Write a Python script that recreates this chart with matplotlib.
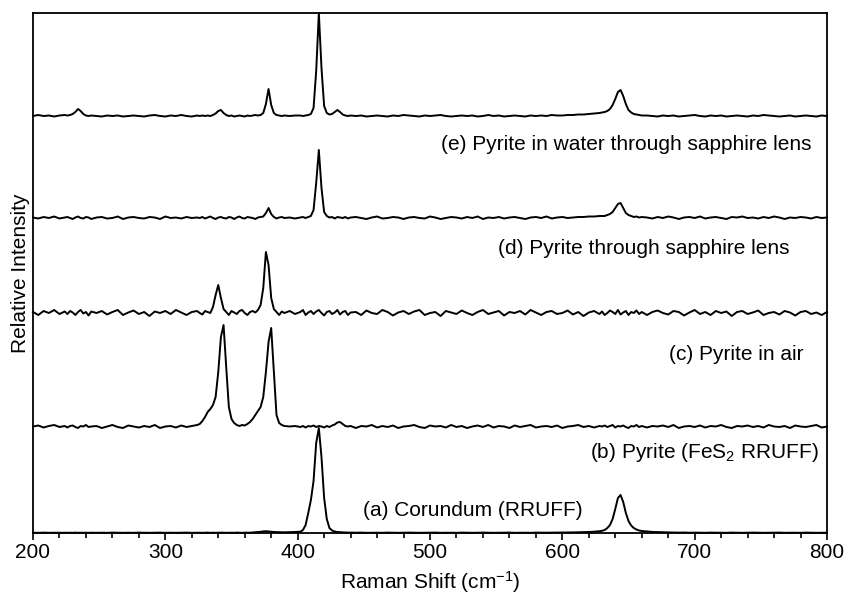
import numpy as np
import matplotlib
matplotlib.use("Agg")
import matplotlib.pyplot as plt
from matplotlib.ticker import MultipleLocator

plt.rcParams['font.family'] = ['Liberation Sans', 'DejaVu Sans']
plt.rcParams['mathtext.fontset'] = 'custom'
plt.rcParams['mathtext.rm'] = 'Liberation Sans'
plt.rcParams['mathtext.it'] = 'Liberation Sans:italic'
plt.rcParams['mathtext.default'] = 'regular'

# Raman shift sampling positions (cm^-1)
raman_shift = np.concatenate([
    np.arange(200, 225, 4), np.arange(226, 245, 2), np.arange(248, 325, 4),
    np.arange(326, 391, 2), np.arange(394, 399, 4), np.arange(402, 441, 2),
    np.arange(444, 629, 4), np.arange(630, 661, 2), np.arange(664, 801, 4)])

# (a) Corundum (RRUFF)
corundum = ([0.3, 0.2, 0.4, 0.2, 0.3, 0.2, 0.3]
            + [0.2, 0.3, 0.2, 0.4, 0.2, 0.3, 0.2, 0.3, 0.2, 0.3]
            + [0.2, 0.3, 0.2, 0.4, 0.3, 0.2, 0.3, 0.2, 0.4, 0.3, 0.2, 0.3, 0.4, 0.2, 0.3, 0.2, 0.3, 0.4, 0.2, 0.3]
            + [0.3, 0.2, 0.3, 0.4, 0.2, 0.3, 0.2, 0.3, 0.4, 0.3, 0.2, 0.3, 0.3, 0.2, 0.4, 0.3, 0.2, 0.3, 0.4, 0.3,
               0.5, 0.6, 0.8, 1.2, 1.6, 1.8, 1.6, 1.3, 1.0, 0.9, 0.8, 0.7, 0.7]
            + [0.8, 1.0]
            + [1.3, 3, 8, 20, 33, 52, 90, 105, 76, 35, 14, 5, 2.5, 1.5, 1.0, 0.8, 0.6, 0.5, 0.4, 0.4]
            + [0.3, 0.4, 0.2, 0.3, 0.3, 0.2, 0.4, 0.3, 0.2, 0.3, 0.4, 0.3, 0.2, 0.3, 0.3, 0.4, 0.2, 0.3, 0.3, 0.2,
               0.4, 0.3, 0.2, 0.3, 0.4, 0.3, 0.2, 0.3, 0.3, 0.4, 0.2, 0.3, 0.3, 0.2, 0.4, 0.3, 0.3, 0.4, 0.4, 0.5,
               0.5, 0.6, 0.7, 0.8, 1.0, 1.3, 1.8]
            + [2.2, 3, 5, 8, 14, 24, 35, 38, 31, 20, 12, 7.5, 5, 3.5, 2.5, 2]
            + [1.5, 1.1, 0.9, 0.7, 0.6, 0.5, 0.4, 0.5, 0.3, 0.4, 0.3, 0.2, 0.4, 0.3, 0.3, 0.2, 0.4, 0.3, 0.2, 0.3,
               0.4, 0.3, 0.2, 0.3, 0.3, 0.4, 0.2, 0.3, 0.3, 0.2, 0.4, 0.3, 0.2, 0.3, 0.3])

# (b) Pyrite (FeS2 RRUFF)
pyrite_rruff = ([0.5, 1.5, -0.5, 1, 2, 0, 1]
                + [-0.5, 1, 1.5, 0, -1, 1, 0.5, 2, 0, 0.5]
                + [1, -1, 0.5, 2, 0, -1, 1.5, 0.5, -0.5, 1, 0, 2, -1, 0.5, 1, -0.5, 1.5, 0, 1, 2]
                + [3, 6, 10, 15, 18, 22, 30, 55, 90, 102, 60, 20, 8, 4, 2, 1, 2, 1.5, 3, 5,
                   8, 12, 16, 20, 30, 55, 85, 99, 55, 12, 4, 2, 1]
                + [0.5, 1]
                + [0, 1, -0.5, 1, 0.5, 1.5, 0, 1, 0.5, -0.5, 1, 0, 1.5, 2.5, 4.5, 5, 3, 1, 0.5, 1]
                + [-1, 1, 0.5, 2, -0.5, 1, 0, 1.5, -1, 0.5, 1, 2, 0, -1, 1.5, 0.5, 1, -0.5, 2, 0,
                   1, -1, 0.5, 1.5, 0, 2, -0.5, 1, 0.5, -1, 1.5, 0, 1, 2, -0.5, 0.5, 1, 0, 1.5, -1,
                   0.5, 1, 2, 0, 1, -0.5, 1]
                + [0.5, 1.5, 0, 1, 2, -0.5, 1, 0.5, 1.5, 0, -1, 1, 0.5, 2, 0, 1]
                + [-0.5, 1, 0.5, 1.5, 0, 2, -1, 0.5, 1, 0, 1.5, -0.5, 1, 0.5, 2, 0, -1, 1, 0.5, 1.5,
                   0, 1, -0.5, 2, 0.5, 0, 1, -1, 1.5, 0.5, 0, 1, 2, -0.5, 0.5])

# (c) Pyrite in air
pyrite_air = ([1, -2, 2, 0, 3, -1, 1.5]
              + [-1, 2, 0.5, -2, 1, 3, -0.5, 1, -2.5, 1.5]
              + [0, 2, -1.5, 1, 3, -2, 0.5, 2.5, -1, 1, -3, 1.5, 0, 2, -1, 3, 0.5, -2, 1, 2]
              + [0, -1.5, 2, 1, 0, 6, 18, 28, 15, 4, 1, -2, 2, 0.5, -1, 2, 3, 0, -2, 1,
                 2, 0.5, 3, 8, 25, 61, 48, 15, 4, 1, -2, 1.5, 0]
              + [2, -1]
              + [1, 3, -2, 0.5, 2, -1, 1.5, 3, 0, -2.5, 1, 2, -1, 0.5, 3, -1.5, 1, 2, -2, 0.5]
              + [1, -2, 2.5, 0, -1, 3, 1, -2.5, 0.5, 2, -1, 1.5, 3, -2, 0, 1, -3, 2, 0.5, -1,
                 2.5, 0, -2, 1, 3, -1, 0.5, 2, -2.5, 1, 0, 2, -1.5, 3, 0.5, -2, 1, 2, -1, 0,
                 2.5, -1.5, 1, -3, 0.5, 2, -1]
              + [1.5, -2, 0, 2.5, 1, -1, 3, -1.5, 0.5, 2, -2, 1, 0, 2.5, -1, 1]
              + [-2, 1, 2.5, 0, -1.5, 2, 1, -2.5, 0.5, 3, -1, 1, -2, 2, 0, 1.5, -3, 1, 2, -1,
                 0.5, 2.5, -2, 0, 1, -1.5, 2, 0.5, -2.5, 1, 2, -1, 0.5, -2, 1])

# (d) Pyrite through sapphire lens
pyrite_lens = ([0.5, -0.5, 1, 0, 1.5, -0.5, 0.5]
               + [1, 0, -1, 0.5, 1.5, 0, -0.5, 1, 0.5, -1]
               + [0.5, 1, -0.5, 0, 1.5, -1, 0.5, 1, 0, -0.5, 1, 0.5, -1, 1.5, 0, 0.5, -0.5, 1, 0, 0.5]
               + [0, 1, -0.5, 0.5, 1.5, 0, -1, 0.5, 1, 0, -0.5, 1, 0.5, -1, 0.5, 1.5, 0, -0.5, 1, 0.5,
                  0, -1, 0.5, 1, 1.5, 5, 10, 4, 1, -0.5, 0.5, 1, 0]
               + [0.5, -0.5]
               + [0.5, 1, 0, 1, 2, 8, 35, 68, 30, 6, 2, 0.5, 1, -0.5, 1, 0.5, 0, 1, -0.5, 0.5]
               + [1, 0, -1, 0.5, 1.5, -0.5, 0, 1, 0.5, -1, 0.5, 1, 0, -0.5, 1.5, 0.5, -1, 0, 1, 0.5,
                  -0.5, 1, 0, 1.5, -1, 0.5, 0, 1, -0.5, 0.5, 1, 0, -1, 0.5, 1, 0, 1.5, -0.5, 0.5, 1,
                  0, 0.5, 1, 1, 1.5, 1.5, 2]
               + [2, 2, 3, 4, 6, 10, 14, 15, 10, 5, 3, 2, 1, 1.5, 0.5, 1]
               + [0.5, -0.5, 1, 0, 1.5, 0.5, -1, 0.5, 1, 0, 1.5, -0.5, 0.5, 1, 0, -1, 1, 0.5, 1.5, 0,
                  0.5, -0.5, 1, 0, 1.5, 0.5, -1, 0.5, 0, 1, 0.5, -0.5, 1, 0, 0.5])

# (e) Pyrite in water through sapphire lens
pyrite_water = ([0, 1, 0, 0.5, -0.5, 0.5, 1]
                + [0.5, 1, 2, 4, 7, 5, 2, 0.5, 0, 0.5]
                + [0, -0.5, 0.5, 0, 0.5, -0.5, 0, 0.5, 0, -0.5, 0.5, 1, 0, -0.5, 0.5, 0, 1, 0, -0.5, 0.5]
                + [0, 0.5, 0, 0.5, 0, 1, 2.5, 5, 6, 3, 1, 0, 0.5, -0.5, 0, 0.5, 0, -0.5, 0.5, 0,
                   0.5, 1, 0.5, 1, 3, 12, 27, 11, 3, 1, 0.5, 0, 0.5]
                + [0, 0.5]
                + [0.5, 0, 0.5, 1, 2, 8, 45, 103, 48, 10, 3, 1.5, 2, 4, 6, 4, 1.5, 0.5, 0, 0.5]
                + [0, 0.5, -0.5, 0, 0.5, 0, -0.5, 0.5, 0, 1, 0.5, 0, -0.5, 0.5, 0, 0.5, 1, 0, -0.5, 0,
                   0.5, 0, 0.5, -0.5, 0, 1, 0, 0.5, -0.5, 0, 0.5, 0, -0.5, 0.5, 0, 0.5, 0, 1, 0.5, 0.5,
                   1, 1, 1.5, 1.5, 2, 2.5, 3]
                + [3.5, 4, 5, 7, 11, 17, 24, 26, 20, 12, 6, 3.5, 2, 1.5, 1, 0.5]
                + [0.5, 0, -0.5, 0.5, 0, 0.5, -0.5, 0, 0.5, 1, 0, -0.5, 0.5, 0, 0.5, -0.5, 0, 0.5, 0, -0.5,
                   0.5, 0, 1, 0.5, 0, -0.5, 0, 0.5, -0.5, 0, 0.5, 0, -0.5, 0.5, 0])

spectra = [corundum, pyrite_rruff, pyrite_air, pyrite_lens, pyrite_water]
offsets = [0, 106, 220, 315, 417]
labels = ["(a) Corundum (RRUFF)", "(b) Pyrite (FeS$_2$ RRUFF)", "(c) Pyrite in air",
          "(d) Pyrite through sapphire lens", "(e) Pyrite in water through sapphire lens"]

fig = plt.figure(figsize=(8.45, 5.98), dpi=100)
ax = fig.add_axes([33 / 845, 65 / 598, 794 / 845, 520 / 598])

for spec, off in zip(spectra, offsets):
    ax.plot(raman_shift, np.array(spec) + off, color='black', lw=1.4, clip_on=False)

# label placement (x in cm^-1, y in plot units)
label_pos = [(615, 22, 'right'), (621, 80, 'left'), (782, 179, 'right'),
             (772, 285, 'right'), (788.5, 388, 'right')]
for lab, (lx, ly, ha) in zip(labels, label_pos):
    ax.text(lx, ly, lab, ha=ha, va='center', fontsize=15)

ax.set_xlim(200, 800)
ax.set_ylim(0, 520)
ax.set_yticks([])
ax.xaxis.set_major_locator(MultipleLocator(100))
ax.xaxis.set_minor_locator(MultipleLocator(20))
ax.tick_params(axis='x', which='major', direction='out', length=5, width=1.2,
               labelsize=15, pad=2, top=False)
ax.tick_params(axis='x', which='minor', direction='out', length=3.5, width=1.2, top=False)
for s in ax.spines.values():
    s.set_linewidth(1.3)

ax.set_xlabel("Raman Shift (cm$^{-1}$)", fontsize=15, labelpad=5)
ax.set_ylabel("Relative Intensity", fontsize=15, labelpad=2)

fig.savefig("out.png", dpi=100)
